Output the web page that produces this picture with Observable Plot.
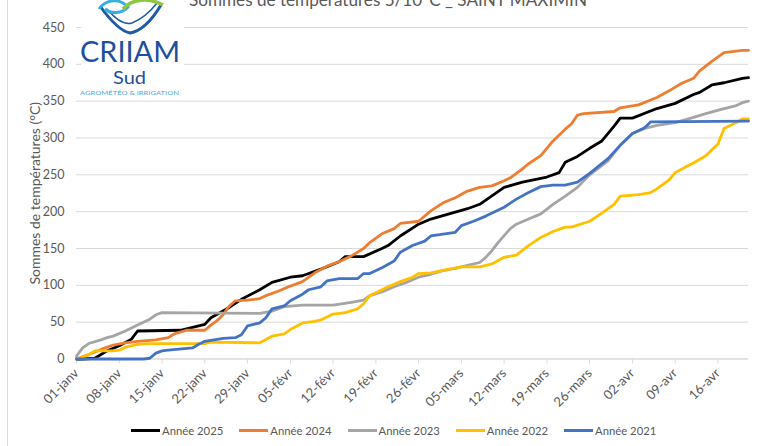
<!DOCTYPE html>
<html>
<head>
<meta charset="utf-8">
<script src="https://cdn.jsdelivr.net/npm/d3@7"></script>
<script src="https://cdn.jsdelivr.net/npm/@observablehq/plot@0.6"></script>
<style>
  html, body { margin: 0; padding: 0; background: #fff; }
  #wrap { position: relative; width: 761px; height: 446px; overflow: hidden; background: #fff; font-family: Lato, "Open Sans", sans-serif; }
  #chart { position: absolute; left: 0; top: 0; }
  #overlay { position: absolute; left: 0; top: 0; }
  #border { position: absolute; left: 7px; top: 0; width: 1px; height: 446px; background: #d9d9d9; }
  #legend { position: absolute; left: 131px; top: 424px; display: flex; gap: 16px; font-size: 11.3px; color: #595959; }
  #legend .item { display: flex; align-items: center; white-space: nowrap; }
  #legend .sw { width: 29px; height: 3px; margin-right: 2px; }
</style>
</head>
<body>
<div id="wrap">
  <div id="border"></div>
  <div id="chart"></div>
  <svg id="overlay" width="761" height="100">
    <rect x="81" y="0" width="103" height="97" fill="#fff"></rect>
    <path d="M100,6 C110,20 120,31 130,33 C142,31 152,20 161,5" stroke="#1d5ba8" stroke-width="3" fill="none"></path>
    <path d="M107,9 C117,21 125,25 132,23 C142,19 150,12 157,3" stroke="#1d5ba8" stroke-width="1.5" fill="none"></path>
    <path d="M99,9 C106,-1 120,-2 128,7 C122,14 111,14 105,9" stroke="#35aee2" stroke-width="3" fill="none"></path>
    <path d="M123,9 C132,-1 148,-3 163,5" stroke="#8dc63f" stroke-width="3.5" fill="none"></path>
    <text x="80" y="62" font-size="29.5" fill="#1d4f9e" textLength="100" lengthAdjust="spacingAndGlyphs" font-family="Lato, sans-serif">CRIIAM</text>
    <text x="113" y="84" font-size="17" fill="#1d4f9e" textLength="33" lengthAdjust="spacingAndGlyphs" font-family="Lato, sans-serif">Sud</text>
    <text x="80" y="95" font-size="5.5" fill="#4ba6dc" textLength="99" lengthAdjust="spacingAndGlyphs" font-family="Lato, sans-serif">AGROMÉTÉO &amp; IRRIGATION</text>
    <text x="388" y="6" font-size="18" fill="#595959" text-anchor="middle" textLength="398" lengthAdjust="spacingAndGlyphs" font-family="Lato, sans-serif">Sommes de températures 5/10°C _ SAINT MAXIMIN</text>
  </svg>
  <div id="legend"></div>
</div>
<script>
// ---- Data (day index from 01-janv, cumulative degree-days) ----
const seriesNames = ["Année 2025", "Année 2024", "Année 2023", "Année 2022", "Année 2021"];
const seriesColors = ["#000000", "#ED7D31", "#A5A5A5", "#FFC000", "#4472C4"];

const days2025 = [0,1,3,5,7,9,10,17,19,21,22,25,27,30,32,35,37,40,43,44,47,50,51,53,56,58,61,64,66,70,73,77,79,80,82,84,86,88,89,91,95,98,101,102,104,106,109,110];
const vals2025 = [0,0,1,11,18,27,38,39,43,47,56,70,81,94,104,111,113,122,132,139,139,150,154,167,183,190,197,204,210,233,240,247,253,267,275,286,296,316,327,327,340,347,359,362,372,375,381,382];

const days2024 = [0,2,4,6,8,10,13,15,16,18,21,22,23,24,25,26,28,30,31,33,35,37,39,41,43,45,47,48,50,52,53,56,58,60,62,64,66,68,70,71,73,74,76,78,80,81,82,83,88,89,92,95,97,99,101,102,104,106,109,110];
const vals2024 = [0,6,13,19,22,24,26,29,34,39,39,46,52,60,72,79,80,82,86,92,99,105,117,126,132,140,150,158,170,177,184,187,201,212,219,228,233,235,242,246,258,265,276,296,312,319,331,333,336,341,345,355,364,374,381,391,404,416,419,419];

const days2023 = [0,1,2,4,5,6,8,10,12,13,14,30,32,34,37,42,45,47,48,50,52,54,56,58,60,62,64,66,67,68,69,71,72,74,76,78,80,82,84,87,89,91,93,95,98,101,103,106,108,109,110];
const vals2023 = [4,15,21,26,29,31,38,46,54,60,63,62,65,71,73,73,77,80,86,91,98,104,111,115,120,123,127,131,138,147,158,177,183,190,197,210,221,233,250,269,290,306,313,317,321,328,333,340,344,348,350];

const days2022 = [0,2,3,6,7,8,10,12,21,22,30,32,34,35,37,39,40,42,44,46,47,48,50,51,53,55,56,58,61,63,66,68,70,72,74,76,78,80,81,84,86,88,89,92,94,95,97,98,100,101,103,105,106,108,109,110];
const vals2022 = [0,6,11,11,12,16,20,21,21,23,22,31,34,40,49,51,53,61,63,68,75,86,94,98,105,111,116,117,122,125,125,129,138,141,154,165,173,179,179,187,198,210,221,223,226,231,243,253,262,266,276,292,313,321,326,326];

const days2021 = [0,11,12,13,14,15,19,20,21,24,26,27,28,30,31,32,34,35,37,38,40,41,43,46,47,48,50,52,53,55,57,58,62,63,65,67,70,72,74,76,78,80,82,84,87,89,91,93,94,110];
const vals2021 = [0,0,1,8,11,12,15,20,24,28,29,33,45,49,56,68,72,79,88,94,98,106,109,109,116,116,124,133,145,154,160,167,172,181,187,194,206,217,226,234,236,236,240,252,272,290,306,314,322,323];

const tickLabels = ["01-janv","08-janv","15-janv","22-janv","29-janv","05-févr","12-févr","19-févr","26-févr","05-mars","12-mars","19-mars","26-mars","02-avr","09-avr","16-avr"];
const yTicks = [0,50,100,150,200,250,300,350,400,450];
const yTitle = "Sommes de températures (°C)";

// ---- Build table ----
const allDays = [days2025, days2024, days2023, days2022, days2021];
const allVals = [vals2025, vals2024, vals2023, vals2022, vals2021];
const data = [];
seriesNames.forEach((name, s) => {
  allDays[s].forEach((d, i) => data.push({series: name, day: d, value: allVals[s][i]}));
});
const tickDays = tickLabels.map((_, i) => i * 7);

const chart = Plot.plot({
  width: 761,
  height: 418,
  marginLeft: 76,
  marginRight: 13,
  marginTop: 27,
  marginBottom: 59.5,
  style: {fontFamily: "Lato, 'Open Sans', sans-serif", fontSize: "12.5px", color: "#595959", background: "transparent"},
  x: {domain: [0, 110]},
  y: {domain: [0, 450]},
  color: {domain: seriesNames, range: seriesColors},
  marks: [
    Plot.gridY(yTicks, {stroke: "#d9d9d9", strokeOpacity: 1, strokeWidth: 1}),
    Plot.axisY(yTicks, {tickSize: 0, tickPadding: 12, label: null, fontSize: 12.5}),
    Plot.ruleY([0], {stroke: "#d9d9d9", strokeWidth: 1}),
    Plot.axisX(tickDays, {tickFormat: d => tickLabels[Math.round(d / 7)], tickRotate: -45, tickSize: 5, tickPadding: 7, stroke: "#d9d9d9", label: null, fontSize: 13}),
    Plot.line(data, {x: "day", y: "value", z: "series", stroke: "series", strokeWidth: 2.8, strokeLinejoin: "round", strokeLinecap: "round"}),
    Plot.text([yTitle], {text: d => d, frameAnchor: "left", textAnchor: "middle", dx: -41, rotate: -90, fontSize: 14, fill: "#595959"})
  ]
});
document.getElementById("chart").appendChild(chart);

// ---- Legend ----
const legend = document.getElementById("legend");
seriesNames.forEach((name, i) => {
  const item = document.createElement("div");
  item.className = "item";
  const sw = document.createElement("span");
  sw.className = "sw";
  sw.style.background = seriesColors[i];
  const t = document.createElement("span");
  t.textContent = name;
  item.appendChild(sw);
  item.appendChild(t);
  legend.appendChild(item);
});
</script>
</body>
</html>
